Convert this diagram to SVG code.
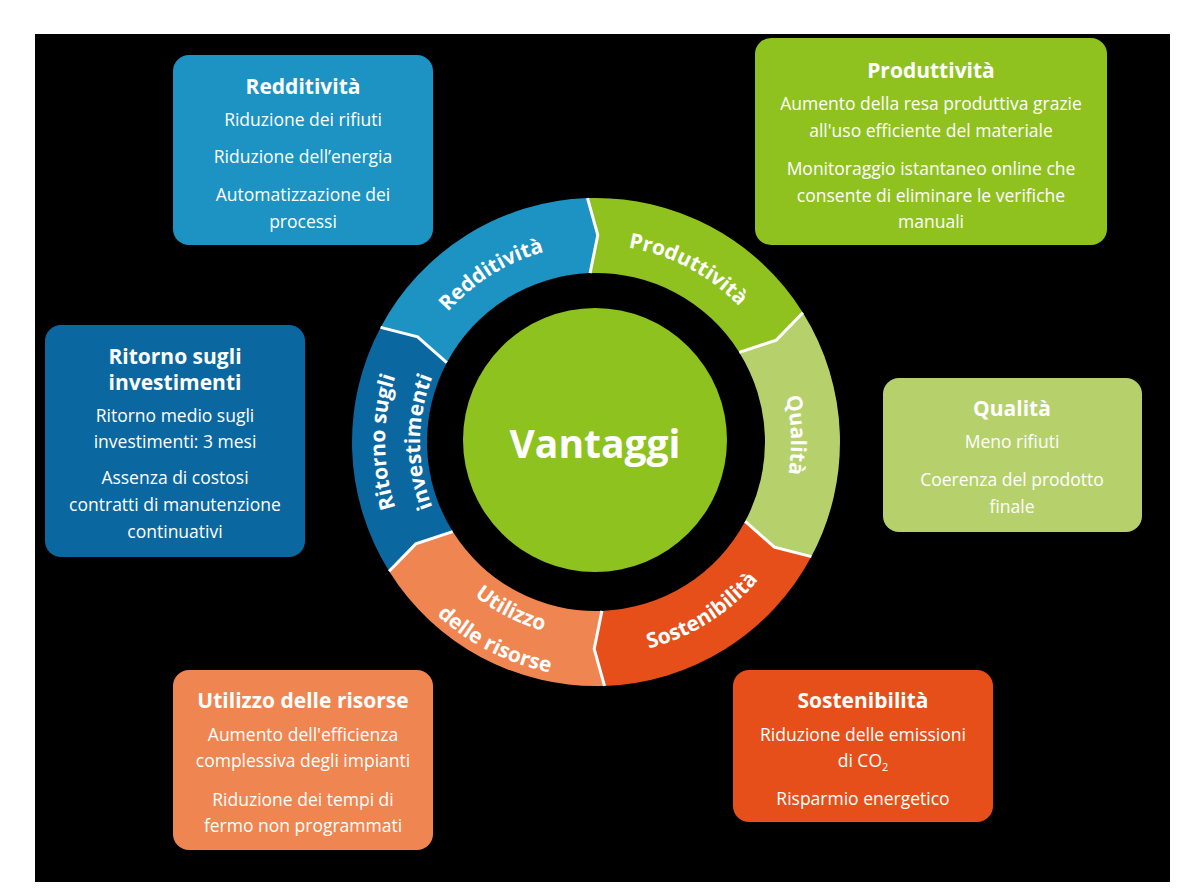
<svg xmlns="http://www.w3.org/2000/svg" width="1194" height="895" viewBox="0 0 1194 895">
<style>
.t{font-family:"Open Sans","Liberation Sans",sans-serif;font-weight:700;font-size:21px;fill:#fff;text-anchor:middle}
.b{font-family:"Open Sans","Liberation Sans",sans-serif;font-size:17.5px;fill:#fff;text-anchor:middle}
.r{font-family:"Open Sans","Liberation Sans",sans-serif;font-weight:700;font-size:21px;fill:#fff}
.div{fill:none;stroke:#fff;stroke-width:3;stroke-linejoin:miter}
</style>
<defs>
<path id="pRed" d="M400.9,414.6 A197,197 0 0 1 656.9,254.6"/>
<path id="pPro" d="M522.2,259.3 A197,197 0 0 1 788.7,401.0"/>
<path id="pQua" d="M716.1,288.3 A195,195 0 0 1 726.5,586.9"/>
<path id="pSos" d="M530.2,644.6 A213,213 0 0 0 806.9,471.6"/>
<path id="pUt1" d="M405.0,486.1 A196,196 0 0 0 672.6,622.4"/>
<path id="pUt2" d="M367.0,494.9 A235,235 0 0 0 687.8,658.3"/>
<path id="pRi1" d="M460.4,603.6 A211,211 0 0 1 460.4,280.4"/>
<path id="pRi2" d="M482.9,576.8 A176,176 0 0 1 482.9,307.2"/>
</defs>
<rect width="1194" height="895" fill="#fff"/>
<rect x="35" y="34" width="1135" height="848" fill="#000"/>

<g id="ring">
<path d="M380.6,327.4 A244,244 0 0 1 587.5,198.1 L597.8,235.0 L590.1,273.1 A169,169 0 0 0 446.8,362.7 L417.6,336.9 Z" fill="#1c93c3"/>
<path d="M587.5,198.1 A244,244 0 0 1 802.9,312.7 L776.2,340.1 L739.3,352.4 A169,169 0 0 0 590.1,273.1 L597.8,235.0 Z" fill="#8fc21f"/>
<path d="M802.9,312.7 A244,244 0 0 1 811.4,556.6 L774.4,547.1 L745.2,521.3 A169,169 0 0 0 739.3,352.4 L776.2,340.1 Z" fill="#b6d16b"/>
<path d="M811.4,556.6 A244,244 0 0 1 604.5,685.9 L594.2,649.0 L601.9,610.9 A169,169 0 0 0 745.2,521.3 L774.4,547.1 Z" fill="#e64f19"/>
<path d="M604.5,685.9 A244,244 0 0 1 389.1,571.3 L415.8,543.9 L452.7,531.6 A169,169 0 0 0 601.9,610.9 L594.2,649.0 Z" fill="#ef8550"/>
<path d="M389.1,571.3 A244,244 0 0 1 380.6,327.4 L417.6,336.9 L446.8,362.7 A169,169 0 0 0 452.7,531.6 L415.8,543.9 Z" fill="#0b67a0"/>
</g>
<g id="connectors">
<polyline class="div" points="587.5,198.1 597.8,235.0 590.1,273.1"/>
<polyline class="div" points="802.9,312.7 776.2,340.1 739.3,352.4"/>
<polyline class="div" points="811.4,556.6 774.4,547.1 745.2,521.3"/>
<polyline class="div" points="604.5,685.9 594.2,649.0 601.9,610.9"/>
<polyline class="div" points="389.1,571.3 415.8,543.9 452.7,531.6"/>
<polyline class="div" points="380.6,327.4 417.6,336.9 446.8,362.7"/>
</g>
<g id="ring-labels">
<text class="r"><textPath href="#pRed" startOffset="50%" text-anchor="middle">Redditività</textPath></text>
<text class="r"><textPath href="#pPro" startOffset="50%" text-anchor="middle">Produttività</textPath></text>
<text class="r"><textPath href="#pQua" startOffset="50%" text-anchor="middle">Qualità</textPath></text>
<text class="r"><textPath href="#pSos" startOffset="50%" text-anchor="middle">Sostenibilità</textPath></text>
<text class="r"><textPath href="#pUt1" startOffset="50%" text-anchor="middle">Utilizzo</textPath></text>
<text class="r"><textPath href="#pUt2" startOffset="50%" text-anchor="middle">delle risorse</textPath></text>
<text class="r"><textPath href="#pRi1" startOffset="50%" text-anchor="middle">Ritorno sugli</textPath></text>
<text class="r"><textPath href="#pRi2" startOffset="50%" text-anchor="middle">investimenti</textPath></text>
</g>
<g id="center">
<circle cx="595" cy="440" r="132" fill="#8dc21f"/>
<text x="595" y="458" class="t" style="font-size:39px">Vantaggi</text>
</g>

<g id="box-redditivita">
<rect x="173" y="55" width="260" height="190" rx="16" fill="#1c93c3"/>
<text x="303" y="94" class="t">Redditività</text>
<text x="303" y="126" class="b">Riduzione dei rifiuti</text>
<text x="303" y="163" class="b">Riduzione dell’energia</text>
<text x="303" y="201" class="b">Automatizzazione dei</text>
<text x="303" y="228" class="b">processi</text>
</g>
<g id="box-produttivita">
<rect x="755" y="38" width="352" height="207" rx="16" fill="#8fc21f"/>
<text x="931" y="78" class="t">Produttività</text>
<text x="931" y="110" class="b">Aumento della resa produttiva grazie</text>
<text x="931" y="137" class="b">all'uso efficiente del materiale</text>
<text x="931" y="175" class="b">Monitoraggio istantaneo online che</text>
<text x="931" y="202" class="b">consente di eliminare le verifiche</text>
<text x="931" y="228" class="b">manuali</text>
</g>
<g id="box-ritorno">
<rect x="45" y="325" width="260" height="232" rx="16" fill="#0b67a0"/>
<text x="175" y="364" class="t">Ritorno sugli</text>
<text x="175" y="390" class="t">investimenti</text>
<text x="175" y="422" class="b">Ritorno medio sugli</text>
<text x="175" y="448" class="b">investimenti: 3 mesi</text>
<text x="175" y="484" class="b">Assenza di costosi</text>
<text x="175" y="511" class="b">contratti di manutenzione</text>
<text x="175" y="538" class="b">continuativi</text>
</g>
<g id="box-qualita">
<rect x="883" y="378" width="259" height="154" rx="16" fill="#b6d16b"/>
<text x="1012" y="416" class="t">Qualità</text>
<text x="1012" y="448" class="b">Meno rifiuti</text>
<text x="1012" y="486" class="b">Coerenza del prodotto</text>
<text x="1012" y="513" class="b">finale</text>
</g>
<g id="box-utilizzo">
<rect x="173" y="670" width="260" height="180" rx="16" fill="#ef8550"/>
<text x="303" y="708" class="t">Utilizzo delle risorse</text>
<text x="303" y="741" class="b">Aumento dell'efficienza</text>
<text x="303" y="767" class="b">complessiva degli impianti</text>
<text x="303" y="806" class="b">Riduzione dei tempi di</text>
<text x="303" y="832" class="b">fermo non programmati</text>
</g>
<g id="box-sostenibilita">
<rect x="733" y="670" width="260" height="152" rx="16" fill="#e64f19"/>
<text x="863" y="708" class="t">Sostenibilità</text>
<text x="863" y="741" class="b">Riduzione delle emissioni</text>
<text x="863" y="767" class="b">di CO<tspan font-size="11" dy="4">2</tspan></text>
<text x="863" y="805" class="b">Risparmio energetico</text>
</g>
</svg>
